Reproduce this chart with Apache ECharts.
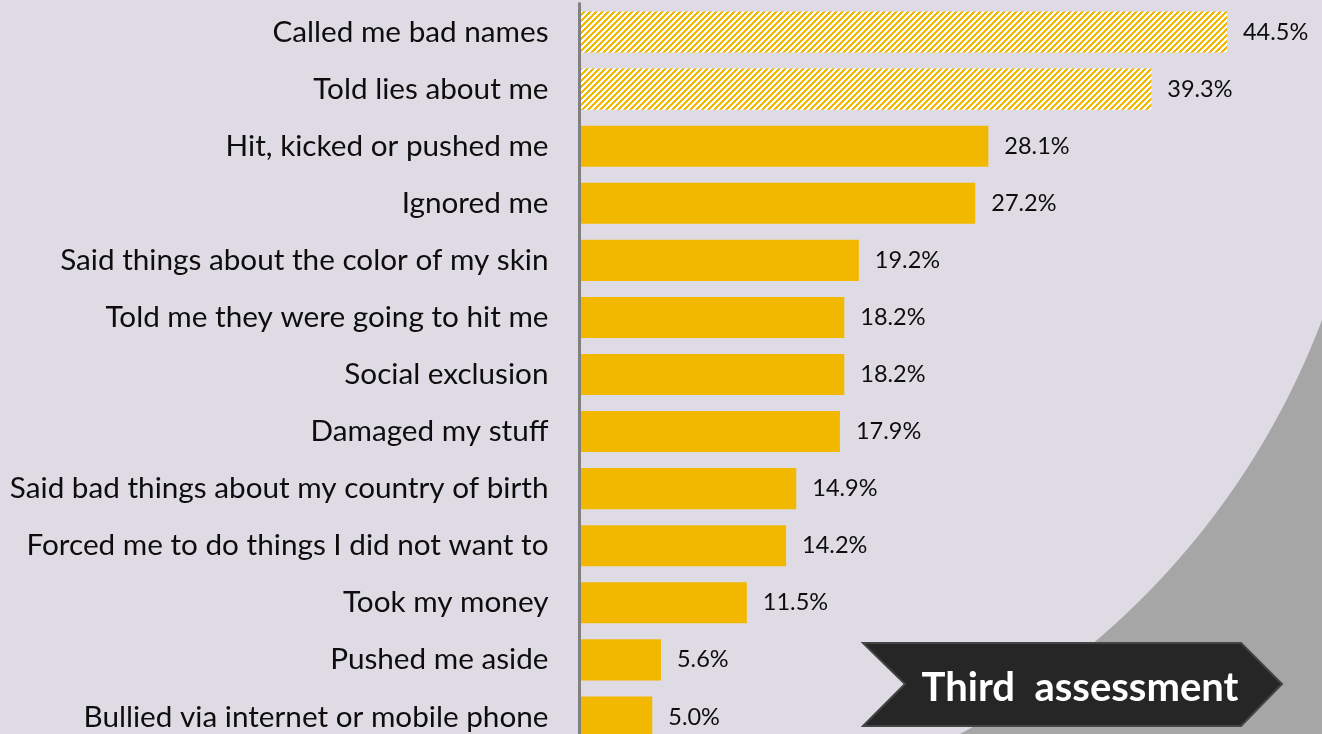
<!DOCTYPE html>
<html>
<head>
<meta charset="utf-8">
<script src="https://cdn.jsdelivr.net/npm/echarts@6/dist/echarts.min.js"></script>
<style>
  html, body { margin: 0; padding: 0; background: #DFDBE5; overflow: hidden; }
  #chart { width: 1322px; height: 746px; }
</style>
</head>
<body>
<div id="chart"></div>
<script>
// Forms of bullying reported, share of respondents (%)
const categories = [
  'Called me bad names',
  'Told lies about me',
  'Hit, kicked or pushed me',
  'Ignored me',
  'Said things about the color of my skin',
  'Told me they were going to hit me',
  'Social exclusion',
  'Damaged my stuff',
  'Said bad things about my country of birth',
  'Forced me to do things I did not want to',
  'Took my money',
  'Pushed me aside',
  'Bullied via internet or mobile phone'
];
const values = [44.5, 39.3, 28.1, 27.2, 19.2, 18.2, 18.2, 17.9, 14.9, 14.2, 11.5, 5.6, 5.0];
// the two most frequent forms are drawn with a striped fill
const hatched = [true, true, false, false, false, false, false, false, false, false, false, false, false];
const badgeText = 'Third  assessment';

const GOLD = '#F2B800';
const FONT = 'Lato, "Open Sans", sans-serif';

// diagonal stripe tile for the highlighted bars
function stripeTile() {
  const n = 6;
  const c = document.createElement('canvas');
  c.width = n; c.height = n;
  const ctx = c.getContext('2d');
  for (let y = 0; y < n; y++) {
    for (let x = 0; x < n; x++) {
      ctx.fillStyle = ((x + y) % n) < 3 ? GOLD : '#FFFFFF';
      ctx.fillRect(x, y, 1, 1);
    }
  }
  return c;
}
const stripe = { image: stripeTile(), repeat: 'repeat' };

const barData = values.map((v, i) => ({
  value: v,
  itemStyle: { color: hatched[i] ? stripe : GOLD }
}));

// grey corner sweep: the area outside a large circle, lower right
function sweepPoints() {
  const cx = 585.6, cy = 41.4, r = 787.3;
  const pts = [];
  for (let y = 300; y <= 746; y += 4) {
    const dy = y - cy;
    pts.push([cx + Math.sqrt(r * r - dy * dy), y]);
  }
  pts.push([1322, 746], [1322, 300]);
  return pts;
}

const chart = echarts.init(document.getElementById('chart'), null, { renderer: 'canvas' });

chart.setOption({
  backgroundColor: '#DFDBE5',
  animation: false,
  grid: { left: 579.5, top: 3.5, width: 727.5, height: 742, containLabel: false },
  xAxis: {
    type: 'value', min: 0, max: 50,
    show: false
  },
  yAxis: {
    type: 'category',
    data: categories,
    inverse: true,
    z: 5,
    axisLine: { show: true, lineStyle: { color: '#808080', width: 3 } },
    axisTick: { show: false },
    axisLabel: {
      margin: 31,
      color: '#0d0d0d',
      fontFamily: FONT,
      fontSize: 29.7
    },
    splitLine: { show: false }
  },
  series: [{
    type: 'bar',
    data: barData,
    barCategoryGap: '28%',
    z: 2,
    label: {
      show: true,
      position: 'right',
      distance: 16,
      color: '#0d0d0d',
      fontFamily: FONT,
      fontSize: 23.5,
      formatter: p => p.value.toFixed(1) + '%'
    }
  }],
  graphic: [
    {
      type: 'polygon',
      z: -10,
      silent: true,
      shape: { points: sweepPoints() },
      style: { fill: '#A6A6A6' }
    },
    {
      // chevron badge
      type: 'polygon',
      z: 20,
      silent: true,
      shape: { points: [[863, 643], [1241, 643], [1282, 684], [1241, 726], [863, 726], [905, 684]] },
      style: { fill: '#262626', stroke: '#444444', lineWidth: 2 }
    },
    {
      type: 'text',
      z: 21,
      silent: true,
      x: 1080, y: 688,
      style: {
        text: badgeText,
        fill: '#FFFFFF',
        font: 'bold 40px ' + FONT,
        align: 'center',
        verticalAlign: 'middle'
      }
    }
  ]
});
</script>
</body>
</html>
